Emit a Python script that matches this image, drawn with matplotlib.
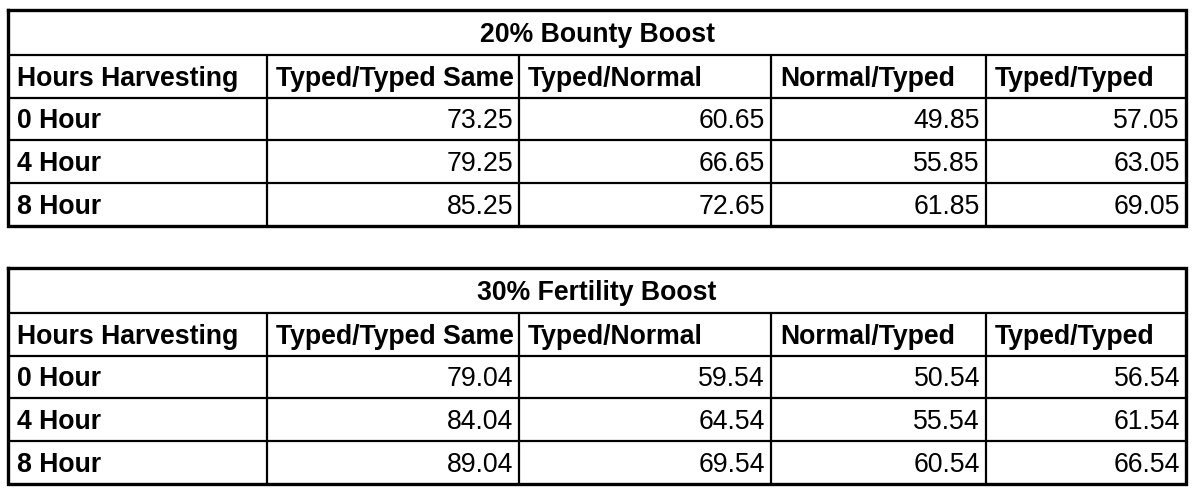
import matplotlib
matplotlib.use("Agg")
import matplotlib.pyplot as plt

titles = ["20% Bounty Boost", "30% Fertility Boost"]
columns = ["Hours Harvesting", "Typed/Typed Same", "Typed/Normal", "Normal/Typed", "Typed/Typed"]
row_labels = ["0 Hour", "4 Hour", "8 Hour"]
bounty = [[73.25, 60.65, 49.85, 57.05],
          [79.25, 66.65, 55.85, 63.05],
          [85.25, 72.65, 61.85, 69.05]]
fertility = [[79.04, 59.54, 50.54, 56.54],
             [84.04, 64.54, 55.54, 61.54],
             [89.04, 69.54, 60.54, 66.54]]

W, H = 1194, 490
col_x = [8, 267, 519, 771, 986, 1186]
FONT = "Liberation Sans"
FS = 19.2

fig = plt.figure(figsize=(W / 100, H / 100), dpi=100)
ax = fig.add_axes([0, 0, 1, 1])
ax.set_xlim(0, W)
ax.set_ylim(H, 0)
ax.axis("off")


def draw_table(top, title, values):
    row_y = [top, top + 45, top + 88, top + 130, top + 173, top + 216]
    x0, x1 = col_x[0], col_x[-1]
    # horizontal rules
    for y in row_y[1:-1]:
        ax.plot([x0, x1], [y, y], color="black", lw=1.6, solid_capstyle="butt")
    # vertical rules below the title row
    for x in col_x[1:-1]:
        ax.plot([x, x], [row_y[1], row_y[-1]], color="black", lw=1.6, solid_capstyle="butt")
    # outer border
    ax.plot([x0, x1, x1, x0, x0], [row_y[0], row_y[0], row_y[-1], row_y[-1], row_y[0]],
            color="black", lw=2.4, solid_joinstyle="miter")
    ax.text((x0 + x1) / 2, (row_y[0] + row_y[1]) / 2 + 2, title, ha="center", va="center",
            fontsize=FS, fontweight="bold", family=FONT)
    hy = (row_y[1] + row_y[2]) / 2 + 2
    for i, c in enumerate(columns):
        ax.text(col_x[i] + 9, hy, c, ha="left", va="center",
                fontsize=FS, fontweight="bold", family=FONT)
    for r, lab in enumerate(row_labels):
        y = (row_y[r + 2] + row_y[r + 3]) / 2 + 2
        ax.text(col_x[0] + 9, y, lab, ha="left", va="center",
                fontsize=FS, fontweight="bold", family=FONT)
        for c, v in enumerate(values[r]):
            ax.text(col_x[c + 2] - 6, y, f"{v:.2f}", ha="right", va="center",
                    fontsize=FS, family=FONT)


draw_table(10, titles[0], bounty)
draw_table(268, titles[1], fertility)

fig.savefig("out.png", dpi=100)
